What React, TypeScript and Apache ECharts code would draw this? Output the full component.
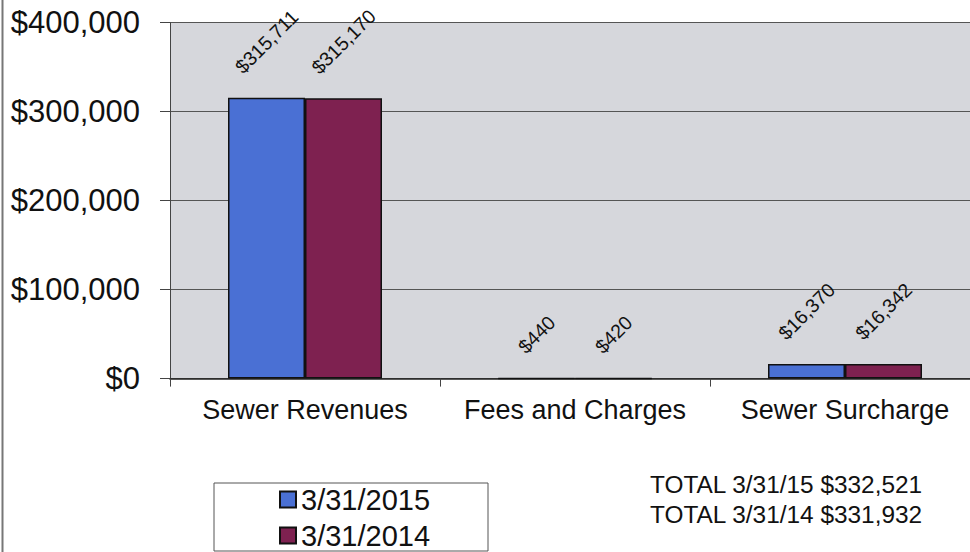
import React, { useEffect, useRef } from "react";
import * as echarts from "echarts";

const categories = ["Sewer Revenues", "Fees and Charges", "Sewer Surcharge"];
const seriesNames = ["3/31/2015", "3/31/2014"];
const values2015 = [315711, 440, 16370];
const values2014 = [315170, 420, 16342];
const totalLines = ["TOTAL 3/31/15 $332,521", "TOTAL 3/31/14 $331,932"];
const yTicks = { min: 0, max: 400000, interval: 100000 };

const FONT = 'Arial, "Liberation Sans", sans-serif';
const colors = ["#4a70d4", "#7e2150"];

function fmt(v: number) {
  return "$" + v.toLocaleString("en-US");
}

function measure(text: string, size: number) {
  const c = document.createElement("canvas");
  const ctx = c.getContext("2d");
  if (!ctx) return text.length * size * 0.55;
  ctx.font = `${size}px "Liberation Sans", Arial`;
  return ctx.measureText(text).width;
}

export default function App() {
  const ref = useRef<HTMLDivElement>(null);
  useEffect(() => {
    document.body.style.margin = "0";
    if (!ref.current) return;
    const chart = echarts.init(ref.current, null, { renderer: "svg" });
    const labelSize = 19.5;
    const mkData = (vals: number[]) =>
      vals.map((v) => {
        const w = measure(fmt(v), labelSize);
        return {
          value: v,
          label: { distance: 21 + (w + labelSize) * 0.3536 },
        };
      });
    const mkSeries = (name: string, vals: number[], color: string) => ({
      name,
      type: "bar",
      data: mkData(vals),
      barWidth: 77,
      barGap: "0%",
      itemStyle: { color, borderColor: "#111", borderWidth: 1.5 },
      label: {
        show: true,
        position: "top",
        rotate: 45,
        align: "center",
        verticalAlign: "middle",
        formatter: (p: any) => fmt(p.value),
        fontSize: labelSize,
        fontFamily: FONT,
        color: "#111",
      },
    });
    chart.setOption({
      animation: false,
      backgroundColor: "#ffffff",
      grid: {
        left: 170,
        top: 22.7,
        bottom: 173.4,
        right: 0,
        show: true,
        backgroundColor: "#d6d7dc",
        borderWidth: 0,
      },
      xAxis: {
        type: "category",
        data: categories,
        axisLine: { lineStyle: { color: "#222", width: 1.5 } },
        axisTick: { show: true, length: 8, lineStyle: { color: "#444" } },
        axisLabel: {
          interval: 0,
          fontSize: 27,
          fontFamily: FONT,
          color: "#111",
          margin: 18,
        },
      },
      yAxis: {
        type: "value",
        min: yTicks.min,
        max: yTicks.max,
        interval: yTicks.interval,
        axisLine: { show: true, lineStyle: { color: "#444", width: 1 } },
        axisTick: { show: true, length: 10, lineStyle: { color: "#444" } },
        splitLine: { show: true, lineStyle: { color: "#555", width: 1 } },
        axisLabel: {
          fontSize: 31,
          fontFamily: FONT,
          color: "#111",
          margin: 30,
          formatter: (v: number) => fmt(v),
        },
      },
      legend: {
        orient: "vertical",
        left: 214,
        top: 483,
        padding: [1, 58, 0, 65],
        itemGap: 5,
        itemWidth: 16,
        itemHeight: 16,
        icon: "rect",
        backgroundColor: "#ffffff",
        borderColor: "#555",
        borderWidth: 1,
        textStyle: {
          fontSize: 29,
          lineHeight: 31,
          fontFamily: FONT,
          color: "#111",
        },
        data: seriesNames,
      },
      color: colors,
      series: [
        mkSeries(seriesNames[0], values2015, colors[0]),
        mkSeries(seriesNames[1], values2014, colors[1]),
      ],
      graphic: [
        {
          type: "line",
          shape: { x1: 2.5, y1: 0, x2: 2.5, y2: 552 },
          style: { stroke: "#777", lineWidth: 2 },
          silent: true,
        },
        ...totalLines.map((t, i) => ({
          type: "text",
          left: 650,
          top: 472 + i * 30,
          style: {
            text: t,
            fontSize: 24.4,
            fontFamily: FONT,
            fill: "#111",
          },
        })),
      ],
    });
    return () => chart.dispose();
  }, []);
  return (
    <div style={{ width: 970, height: 552, overflow: "hidden" }}>
      <div ref={ref} style={{ width: 980, height: 552 }} />
    </div>
  );
}
